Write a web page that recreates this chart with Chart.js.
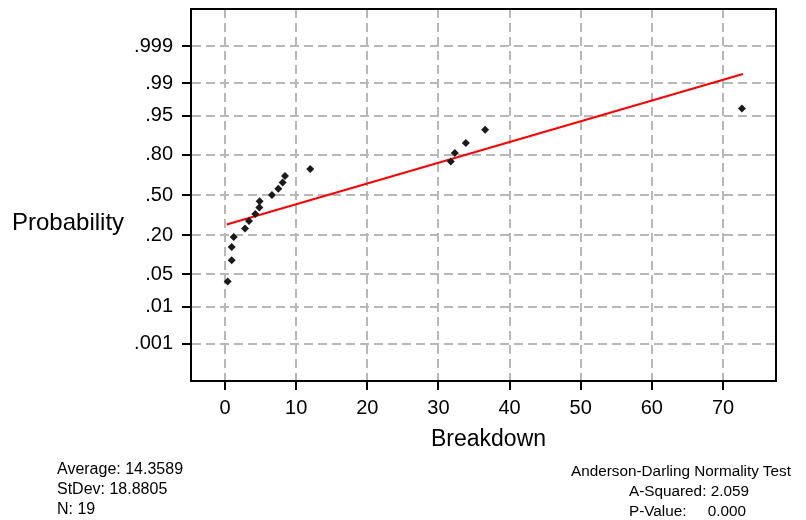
<!DOCTYPE html>
<html>
<head>
<meta charset="utf-8">
<script src="https://cdn.jsdelivr.net/npm/chart.js@4.4.1/dist/chart.umd.min.js"></script>
<style>
  body { margin: 0; background: #fff; }
  #wrap { position: relative; width: 806px; height: 520px; font-family: 'Liberation Sans', Arial, sans-serif; color: #000; }
  #wrap canvas { position: absolute; left: 0; top: 0; }
  .txt { position: absolute; white-space: pre; line-height: 20px; }
</style>
</head>
<body>
<div id="wrap">
  <canvas id="grafico" width="806" height="520"></canvas>
  <div class="txt" style="left:12px; top:210px; font-size:24px; line-height:24px;">Probability</div>
  <div class="txt" style="left:431px; top:427px; font-size:23px; line-height:23px;">Breakdown</div>
  <div class="txt" style="left:57px; top:459px; font-size:16px;">Average: 14.3589
StDev: 18.8805
N: 19</div>
  <div class="txt" style="left:571px; top:461px; font-size:15.3px;">Anderson-Darling Normality Test</div>
  <div class="txt" style="left:629px; top:481px; font-size:15.3px;">A-Squared: 2.059</div>
  <div class="txt" style="left:629px; top:501px; font-size:15.3px;">P-Value:     0.000</div>
</div>
<script>
// Dados
const breakdown = [0.38, 0.94, 0.94, 1.22, 2.81, 3.37, 4.26, 4.82, 4.87, 6.60,
                   7.49, 8.10, 8.43, 11.98, 31.74, 32.30, 33.85, 36.56, 72.66];
const probabilidade = [0.0361, 0.0876, 0.1392, 0.1907, 0.2423, 0.2938, 0.3454, 0.3969, 0.4485, 0.5,
                       0.5515, 0.6031, 0.6546, 0.7062, 0.7577, 0.8093, 0.8608, 0.9124, 0.9639];
const ajusteX = [0.24, 72.8];
const ajusteProb = [0.270, 0.9941];
const xTicks = [0, 10, 20, 30, 40, 50, 60, 70];
const probTicks = [0.001, 0.01, 0.05, 0.20, 0.50, 0.80, 0.95, 0.99, 0.999];
const probLabels = ['.001', '.01', '.05', '.20', '.50', '.80', '.95', '.99', '.999'];

// Quantil da normal (Acklam) para a escala de probabilidade
function probit(p) {
    const a = [-39.69683028665376, 220.9460984245205, -275.9285104469687, 138.3577518672690, -30.66479806614716, 2.506628277459239];
    const b = [-54.47609879822406, 161.5858368580409, -155.6989798598866, 66.80131188771972, -13.28068155288572];
    const c = [-0.007784894002430293, -0.3223964580411365, -2.400758277161838, -2.549732539343734, 4.374664141464968, 2.938163982698783];
    const d = [0.007784695709041462, 0.3224671290700398, 2.445134137142996, 3.754408661907416];
    const plow = 0.02425;
    let q, r;
    if (p < plow) {
        q = Math.sqrt(-2 * Math.log(p));
        return (((((c[0]*q+c[1])*q+c[2])*q+c[3])*q+c[4])*q+c[5]) / ((((d[0]*q+d[1])*q+d[2])*q+d[3])*q+1);
    }
    if (p > 1 - plow) {
        q = Math.sqrt(-2 * Math.log(1 - p));
        return -(((((c[0]*q+c[1])*q+c[2])*q+c[3])*q+c[4])*q+c[5]) / ((((d[0]*q+d[1])*q+d[2])*q+d[3])*q+1);
    }
    q = p - 0.5;
    r = q * q;
    return (((((a[0]*r+a[1])*r+a[2])*r+a[3])*r+a[4])*r+a[5])*q / (((((b[0]*r+b[1])*r+b[2])*r+b[3])*r+b[4])*r+1);
}

Chart.defaults.font.family = "'Liberation Sans', Arial, sans-serif";
Chart.defaults.color = '#000';

// Moldura preta em volta da área do gráfico
const moldura = {
    id: 'moldura',
    afterDraw(chart) {
        const { ctx, chartArea: a } = chart;
        ctx.save();
        ctx.strokeStyle = '#000';
        ctx.lineWidth = 2;
        ctx.strokeRect(a.left, a.top, a.right - a.left, a.bottom - a.top);
        ctx.restore();
    }
};

const grade = {
    color: '#b8b8b8',
    lineWidth: 2,
    tickLength: 9,
    tickColor: '#000',
    tickWidth: 2,
    tickBorderDash: []
};
const borda = { display: true, color: '#000', width: 2, dash: [9, 5] };

new Chart(document.getElementById('grafico'), {
    type: 'scatter',
    data: {
        datasets: [{
            label: 'Dados',
            data: breakdown.map((x, i) => ({ x: x, y: probit(probabilidade[i]) })),
            pointStyle: 'rectRot',
            pointRadius: 4,
            backgroundColor: '#1a1a1a',
            borderColor: '#1a1a1a',
            borderWidth: 0
        }, {
            label: 'Ajuste',
            data: ajusteX.map((x, i) => ({ x: x, y: probit(ajusteProb[i]) })),
            showLine: true,
            pointRadius: 0,
            borderColor: '#ff0000',
            borderWidth: 2
        }]
    },
    options: {
        responsive: false,
        animation: false,
        layout: { padding: { left: 0, right: 30, top: 9, bottom: 59 } },
        plugins: {
            legend: { display: false },
            tooltip: { enabled: false }
        },
        scales: {
            x: {
                type: 'linear',
                min: -4.78,
                max: 77.45,
                afterBuildTicks: s => { s.ticks = xTicks.map(v => ({ value: v })); },
                afterFit: s => { s.height = 80; s.paddingLeft = 0; s.paddingRight = 0; },
                ticks: { font: { size: 20 }, padding: 6, maxRotation: 0, autoSkip: false, color: '#000' },
                grid: grade,
                border: borda
            },
            y: {
                type: 'linear',
                min: -3.87,
                max: 3.87,
                afterBuildTicks: s => { s.ticks = probTicks.map(p => ({ value: probit(p) })); },
                afterFit: s => { s.width = 191; s.paddingTop = 0; s.paddingBottom = 0; },
                ticks: {
                    font: { size: 20 },
                    padding: 9,
                    autoSkip: false,
                    color: '#000',
                    callback: (v, i) => probLabels[i]
                },
                grid: grade,
                border: borda
            }
        }
    },
    plugins: [moldura]
});
</script>
</body>
</html>
